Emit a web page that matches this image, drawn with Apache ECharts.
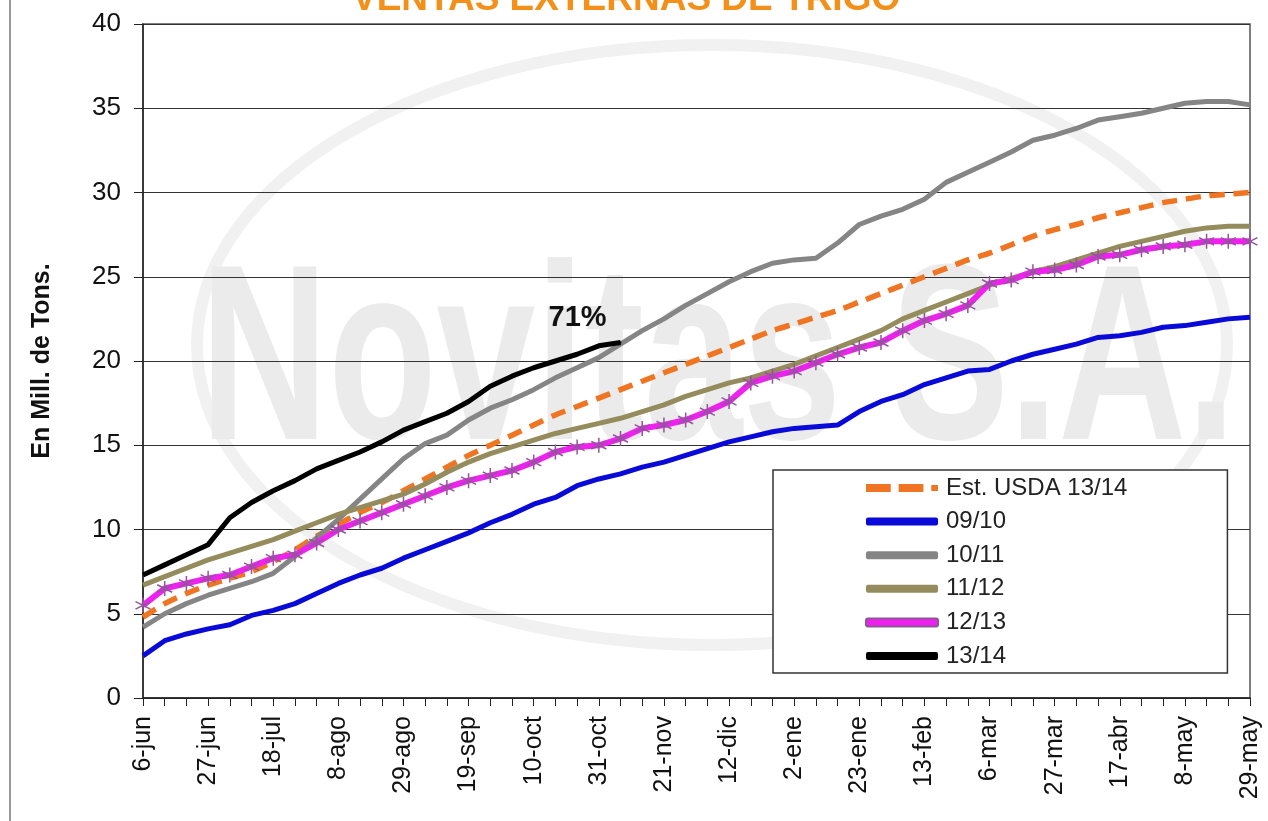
<!DOCTYPE html>
<html>
<head>
<meta charset="utf-8">
<script src="https://cdn.jsdelivr.net/npm/echarts@6/dist/echarts.min.js"></script>
<style>
html,body{margin:0;padding:0;background:#fff;}
#ventasTrigo{width:1268px;height:821px;}
</style>
</head>
<body>
<div id="ventasTrigo"></div>
<script>
// semanas (eje X)
var semanas = ['6-jun','13-jun','20-jun','27-jun','4-jul','11-jul','18-jul','25-jul','1-ago','8-ago',
    '15-ago','22-ago','29-ago','5-sep','12-sep','19-sep','26-sep','3-oct','10-oct','17-oct',
    '24-oct','31-oct','7-nov','14-nov','21-nov','28-nov','5-dic','12-dic','19-dic','26-dic',
    '2-ene','9-ene','16-ene','23-ene','30-ene','6-feb','13-feb','20-feb','27-feb','6-mar',
    '13-mar','20-mar','27-mar','3-abr','10-abr','17-abr','24-abr','1-may','8-may','15-may',
    '22-may','29-may'];
var yTicks = [0, 5, 10, 15, 20, 25, 30, 35, 40];

// Mill. de Tons. acumulados
var estUsda = [4.8, 5.6, 6.2, 6.7, 7.1, 7.5, 8.1, 8.8, 9.6, 10.3,
    11.0, 11.6, 12.3, 13.0, 13.7, 14.4, 15.0, 15.6, 16.2, 16.8,
    17.3, 17.8, 18.3, 18.8, 19.3, 19.8, 20.3, 20.8, 21.3, 21.8,
    22.2, 22.6, 23.0, 23.5, 24.0, 24.5, 25.0, 25.5, 26.0, 26.4,
    26.9, 27.4, 27.8, 28.1, 28.5, 28.8, 29.1, 29.4, 29.6, 29.8,
    29.9, 30.0];
var c0910 = [2.5, 3.4, 3.8, 4.1, 4.35, 4.9, 5.2, 5.6, 6.2, 6.8,
    7.3, 7.7, 8.3, 8.8, 9.3, 9.8, 10.4, 10.9, 11.5, 11.9,
    12.6, 13.0, 13.3, 13.7, 14.0, 14.4, 14.8, 15.2, 15.5, 15.8,
    16.0, 16.1, 16.2, 17.0, 17.6, 18.0, 18.6, 19.0, 19.4, 19.5,
    20.0, 20.4, 20.7, 21.0, 21.4, 21.5, 21.7, 22.0, 22.1, 22.3,
    22.5, 22.6];
var c1011 = [4.2, 5.0, 5.6, 6.1, 6.5, 6.9, 7.4, 8.4, 9.5, 10.6,
    11.8, 13.0, 14.2, 15.1, 15.6, 16.5, 17.2, 17.7, 18.3, 19.0,
    19.6, 20.2, 21.0, 21.8, 22.5, 23.3, 24.0, 24.7, 25.3, 25.8,
    26.0, 26.1, 27.0, 28.1, 28.6, 29.0, 29.6, 30.6, 31.2, 31.8,
    32.4, 33.1, 33.4, 33.8, 34.3, 34.5, 34.7, 35.0, 35.3, 35.4,
    35.4, 35.2];
var c1112 = [6.7, 7.2, 7.7, 8.2, 8.6, 9.0, 9.4, 9.9, 10.4, 10.9,
    11.3, 11.7, 12.1, 12.7, 13.4, 14.0, 14.5, 14.9, 15.3, 15.7,
    16.0, 16.3, 16.6, 17.0, 17.4, 17.9, 18.3, 18.7, 19.0, 19.4,
    19.8, 20.3, 20.8, 21.3, 21.8, 22.5, 23.0, 23.5, 24.0, 24.5,
    24.9, 25.3, 25.6, 26.0, 26.4, 26.8, 27.1, 27.4, 27.7, 27.9,
    28.0, 28.0];
var c1213 = [5.5, 6.5, 6.8, 7.1, 7.3, 7.8, 8.3, 8.5, 9.2, 10.0,
    10.5, 11.0, 11.5, 12.0, 12.5, 12.9, 13.2, 13.5, 14.0, 14.6,
    14.9, 15.0, 15.4, 16.0, 16.2, 16.5, 17.0, 17.6, 18.7, 19.1,
    19.4, 19.9, 20.4, 20.8, 21.1, 21.8, 22.4, 22.8, 23.3, 24.6,
    24.8, 25.3, 25.4, 25.7, 26.2, 26.3, 26.6, 26.8, 26.9, 27.1,
    27.1, 27.1];
var c1314 = [7.3, 7.9, 8.5, 9.1, 10.7, 11.6, 12.3, 12.9, 13.6, 14.1,
    14.6, 15.2, 15.9, 16.4, 16.9, 17.6, 18.5, 19.1, 19.6, 20.0,
    20.4, 20.9, 21.1];
var avanceTxt = '71%';

var asterisco = 'path://M0,-6L0,6M-5.2,-3L5.2,3M-5.2,3L5.2,-3';
var iconoTrazos = 'path://M0,0h22v8h-22zM29,0h22v8h-22zM58,1h6v6h-6z';

var myChart = echarts.init(document.getElementById('ventasTrigo'));

// ultimo punto de 13/14 con la etiqueta del avance
var datos1314 = c1314.map(function (v, i) {
    if (i == c1314.length - 1) {
        return {
            value: v,
            symbol: 'circle',
            symbolSize: 2,
            label: {
                show: true, formatter: avanceTxt, position: 'top', offset: [-43, -4],
                fontSize: 29, fontWeight: 'bold', color: '#111'
            }
        };
    }
    return v;
});

var option = {
    backgroundColor: '#fff',
    animation: false,
    textStyle: { fontFamily: 'Liberation Sans, Arial, sans-serif' },
    title: {
        text: 'VENTAS EXTERNAS DE TRIGO',
        left: 347,
        top: -24,
        textStyle: { color: '#f39019', fontSize: 37, fontWeight: 'bold' }
    },
    graphic: [
        { type: 'line', shape: { x1: 10, y1: 0, x2: 10, y2: 821 }, style: { stroke: '#999', lineWidth: 2 }, z: -1 },
        { type: 'ellipse', shape: { cx: 712, cy: 345, rx: 515, ry: 300 }, style: { fill: 'none', stroke: '#f1f1f1', lineWidth: 12 }, z: -1 },
        {
            type: 'text', left: 200, top: 245, z: -1, scaleX: 0.71,
            style: { text: 'Novitas S.A.', font: 'bold 250px Liberation Sans', fill: '#ebebeb' }
        }
    ],
    grid: {
        left: 143, right: 18, top: 24, bottom: 123,
        show: true, borderColor: '#555', borderWidth: 1.5, backgroundColor: 'transparent'
    },
    legend: {
        orient: 'vertical',
        left: 773, top: 470,
        padding: [6, 100, 5, 92],
        backgroundColor: '#fff',
        borderColor: '#333',
        borderWidth: 1.5,
        itemWidth: 72,
        itemHeight: 8,
        itemGap: 9.6,
        symbolKeepAspect: false,
        textStyle: { fontSize: 24, color: '#222', padding: [0, 0, 0, 3] },
        data: [
            { name: 'Est. USDA 13/14', icon: iconoTrazos, itemStyle: { color: '#f07522' } },
            { name: '09/10', icon: 'roundRect', itemStyle: { color: '#0a0ad8' } },
            { name: '10/11', icon: 'roundRect', itemStyle: { color: '#858585' } },
            { name: '11/12', icon: 'roundRect', itemStyle: { color: '#948c5c' } },
            { name: '12/13', icon: 'roundRect', itemStyle: { color: '#f020f0' } },
            { name: '13/14', icon: 'roundRect', itemStyle: { color: '#000' } }
        ]
    },
    xAxis: {
        type: 'category',
        boundaryGap: false,
        data: semanas,
        axisLine: { lineStyle: { color: '#222', width: 1.5 } },
        axisTick: { show: true, interval: 0, length: 8, lineStyle: { color: '#222' } },
        axisLabel: { interval: 2, rotate: 90, fontSize: 25, color: '#111', margin: 18 },
        splitLine: { show: false }
    },
    yAxis: {
        type: 'value',
        min: yTicks[0],
        max: yTicks[yTicks.length - 1],
        interval: 5,
        name: 'En Mill. de Tons.',
        nameLocation: 'middle',
        nameGap: 88,
        nameRotate: 90,
        nameTextStyle: { fontSize: 25, fontWeight: 'bold', color: '#111' },
        axisLine: { show: true, lineStyle: { color: '#222', width: 1.5 } },
        axisTick: { show: true, length: 9, lineStyle: { color: '#222' } },
        axisLabel: { fontSize: 26, color: '#111', margin: 22 },
        splitLine: { lineStyle: { color: '#333', width: 1.2 } }
    },
    series: [
        {
            name: 'Est. USDA 13/14', type: 'line', data: estUsda, symbol: 'none', smooth: 0.3,
            itemStyle: { color: '#f07522' },
            lineStyle: { color: '#f07522', width: 5.5, type: [15, 9] }
        },
        {
            name: '09/10', type: 'line', data: c0910, symbol: 'none',
            itemStyle: { color: '#0a0ad8' },
            lineStyle: { color: '#0a0ad8', width: 5 }
        },
        {
            name: '10/11', type: 'line', data: c1011, symbol: 'none',
            itemStyle: { color: '#858585' },
            lineStyle: { color: '#858585', width: 5 }
        },
        {
            name: '11/12', type: 'line', data: c1112, symbol: 'none',
            itemStyle: { color: '#948c5c' },
            lineStyle: { color: '#948c5c', width: 5 }
        },
        {
            name: '12/13', type: 'line', data: c1213,
            symbol: asterisco, symbolSize: 15, showSymbol: true, showAllSymbol: true,
            itemStyle: { color: 'none', borderColor: '#8c5896', borderWidth: 1.5 },
            lineStyle: { color: '#f020f0', width: 6 }
        },
        {
            name: '13/14', type: 'line', data: datos1314, symbol: 'none',
            itemStyle: { color: '#000' },
            lineStyle: { color: '#000', width: 5 }
        }
    ]
};
myChart.setOption(option);
</script>
</body>
</html>
